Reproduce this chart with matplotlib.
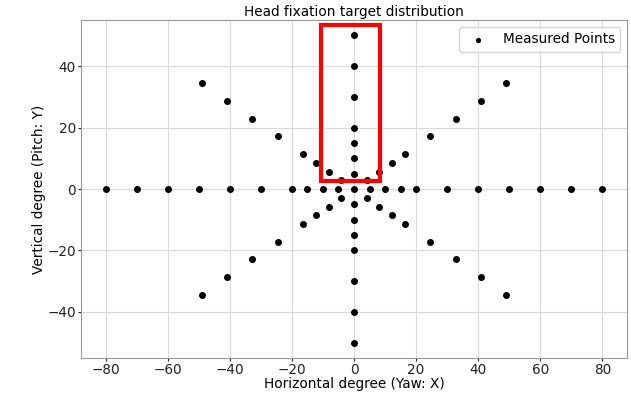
import numpy as np
import matplotlib.pyplot as plt
from matplotlib.patches import Rectangle

# Targets on the horizontal meridian (pitch = 0)
yaw_line = [-80, -70, -60, -50, -40, -30, -20, -15, -10, -5, 0,
            5, 10, 15, 20, 30, 40, 50, 60, 70, 80]
# Targets on the vertical meridian (yaw = 0)
pitch_line = [-50, -40, -30, -20, -15, -10, -5, 5, 10, 15, 20, 30, 40, 50]
# Oblique targets, first quadrant (mirrored into the other three)
diag_yaw = [4.1, 8.2, 12.3, 16.4, 24.6, 32.8, 41.0, 49.1]
diag_pitch = [2.9, 5.7, 8.6, 11.5, 17.2, 22.9, 28.7, 34.4]

# Region of interest box: lower-left corner, width, height
roi = (-10.5, 2.5, 19.0, 51.0)

# Assemble all measured points
xs = list(yaw_line) + [0] * len(pitch_line)
ys = [0] * len(yaw_line) + list(pitch_line)
for sx, sy in [(1, 1), (-1, 1), (-1, -1), (1, -1)]:
    xs += [sx * v for v in diag_yaw]
    ys += [sy * v for v in diag_pitch]
xs = np.array(xs)
ys = np.array(ys)

plt.rcParams['font.size'] = 9.8
fig = plt.figure(figsize=(6.31, 3.93), dpi=100)
ax = fig.add_axes([0.128, 0.089, 0.866, 0.860])

ax.scatter(xs, ys, s=16, c='black', label='Measured Points', zorder=3)
ax.add_patch(Rectangle((roi[0], roi[1]), roi[2], roi[3], fill=False,
                       edgecolor='red', linewidth=3, zorder=4))

ax.set_xlim(-88, 88)
ax.set_ylim(-55, 55)
ax.set_xticks([-80, -60, -40, -20, 0, 20, 40, 60, 80])
ax.set_yticks([-40, -20, 0, 20, 40])
ax.grid(True, color='#d9d9d9', linewidth=0.8)
ax.set_axisbelow(True)
for sp in ax.spines.values():
    sp.set_color('#999999')
ax.tick_params(colors='#222222', length=2, pad=1.5)

ax.set_title('Head fixation target distribution', fontsize=9.8, pad=3)
ax.set_xlabel('Horizontal degree (Yaw: X)', labelpad=0)
ax.set_ylabel('Vertical degree (Pitch: Y)', labelpad=1)
ax.legend(loc='upper right', fontsize=9.8, markerscale=0.7)

plt.savefig('out.png', dpi=100)
